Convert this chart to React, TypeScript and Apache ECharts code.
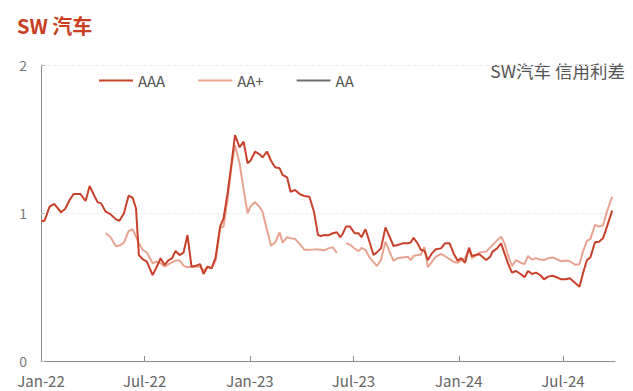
import React, { useEffect, useRef } from 'react';
import * as echarts from 'echarts';

const FONT = '"Noto Sans CJK SC", "Noto Sans", sans-serif';

const titleText = 'SW 汽车';
const noteText = 'SW汽车 信用利差';
const seriesNames = ['AAA', 'AA+', 'AA'];
const seriesColors = ['#C8412B', '#E9A491', '#6F6F6F'];

const dates = [
  '2022-01-01', '2022-01-07', '2022-01-16', '2022-01-24', '2022-02-05', '2022-02-12', '2022-02-20', '2022-02-27',
  '2022-03-11', '2022-03-20', '2022-03-27', '2022-04-05', '2022-04-10', '2022-04-16', '2022-04-24', '2022-05-02',
  '2022-05-12', '2022-05-18', '2022-05-26', '2022-06-03', '2022-06-10', '2022-06-16', '2022-06-21', '2022-06-28',
  '2022-07-05', '2022-07-15', '2022-07-21', '2022-07-29', '2022-08-05', '2022-08-12', '2022-08-18', '2022-08-24',
  '2022-08-31', '2022-09-07', '2022-09-14', '2022-09-21', '2022-09-29', '2022-10-06', '2022-10-12', '2022-10-19',
  '2022-10-26', '2022-11-02', '2022-11-10', '2022-11-16', '2022-11-23', '2022-11-30', '2022-12-06', '2022-12-14',
  '2022-12-21', '2022-12-28', '2023-01-02', '2023-01-10', '2023-01-18', '2023-01-23', '2023-01-31', '2023-02-07',
  '2023-02-14', '2023-02-22', '2023-02-27', '2023-03-07', '2023-03-13', '2023-03-21', '2023-03-29', '2023-04-06',
  '2023-04-15', '2023-04-23', '2023-04-30', '2023-05-05', '2023-05-12', '2023-05-18', '2023-05-26', '2023-06-02',
  '2023-06-08', '2023-06-12', '2023-06-18', '2023-06-25', '2023-07-03', '2023-07-10', '2023-07-15', '2023-07-22',
  '2023-07-29', '2023-08-05', '2023-08-11', '2023-08-18', '2023-08-26', '2023-09-02', '2023-09-09', '2023-09-16',
  '2023-09-25', '2023-10-04', '2023-10-09', '2023-10-14', '2023-10-21', '2023-10-27', '2023-11-02', '2023-11-08',
  '2023-11-15', '2023-11-22', '2023-12-01', '2023-12-08', '2023-12-16', '2023-12-23', '2023-12-30', '2024-01-05',
  '2024-01-12', '2024-01-19', '2024-01-24', '2024-01-30', '2024-02-06', '2024-02-18', '2024-02-25', '2024-02-29',
  '2024-03-08', '2024-03-15', '2024-03-21', '2024-03-27', '2024-04-03', '2024-04-10', '2024-04-18', '2024-04-25',
  '2024-05-01', '2024-05-08', '2024-05-15', '2024-05-22', '2024-05-29', '2024-06-05', '2024-06-13', '2024-06-20',
  '2024-06-28', '2024-07-06', '2024-07-13', '2024-07-23', '2024-07-30', '2024-08-05', '2024-08-12', '2024-08-18',
  '2024-08-26', '2024-09-02', '2024-09-09', '2024-09-16', '2024-09-25',
];

const aaaValues = [
  0.948, 0.946, 1.043, 1.061, 1.005, 1.027, 1.088, 1.128,
  1.128, 1.081, 1.182, 1.11, 1.072, 1.065, 1.009, 0.993,
  0.957, 0.948, 0.998, 1.117, 1.103, 1.032, 0.716, 0.687,
  0.671, 0.581, 0.626, 0.694, 0.649, 0.682, 0.694, 0.743,
  0.716, 0.732, 0.851, 0.637, 0.644, 0.655, 0.588, 0.637,
  0.626, 0.698, 0.908, 0.964, 1.133, 1.336, 1.527, 1.444,
  1.482, 1.336, 1.353, 1.414, 1.396, 1.376, 1.414, 1.353,
  1.309, 1.302, 1.257, 1.241, 1.144, 1.155, 1.128, 1.115,
  1.11, 1.009, 0.851, 0.845, 0.851, 0.849, 0.863, 0.87,
  0.836, 0.858, 0.908, 0.908, 0.863, 0.863, 0.836, 0.89,
  0.806, 0.716, 0.734, 0.761, 0.903, 0.84, 0.777, 0.784,
  0.795, 0.795, 0.8, 0.833, 0.795, 0.75, 0.745, 0.682,
  0.727, 0.755, 0.761, 0.795, 0.795, 0.727, 0.678, 0.694,
  0.664, 0.766, 0.709, 0.716, 0.721, 0.682, 0.705, 0.739,
  0.761, 0.795, 0.727, 0.66, 0.597, 0.608, 0.588, 0.566,
  0.608, 0.588, 0.597, 0.581, 0.552, 0.57, 0.576, 0.566,
  0.552, 0.552, 0.559, 0.525, 0.502, 0.592, 0.682, 0.7,
  0.802, 0.806, 0.829, 0.908, 1.016,
];

const aaPlusValues: (number | null)[] = [
  null, null, null, null, null, null, null, null,
  null, null, null, null, null, null, 0.863, 0.84,
  0.775, 0.78, 0.8, 0.878, 0.89, 0.84, 0.795, 0.75,
  0.733, 0.66, 0.671, 0.662, 0.637, 0.655, 0.667, 0.678,
  0.68, 0.645, 0.633, 0.637, 0.637, 0.637, 0.61, 0.637,
  0.628, 0.675, 0.898, 0.908, 1.088, 1.32, 1.459, 1.336,
  1.16, 0.998, 1.044, 1.074, 1.04, 1.009, 0.885, 0.779,
  0.8, 0.87, 0.8, 0.836, 0.83, 0.824, 0.791, 0.752,
  0.752, 0.753, 0.754, 0.752, 0.749, 0.761, 0.768, 0.73,
  null, null, 0.795, 0.786, 0.76, 0.742, 0.765, 0.75,
  0.7, 0.668, 0.642, 0.682, 0.806, 0.739, 0.676, 0.694,
  0.7, 0.705, 0.682, 0.71, 0.716, 0.72, 0.77, 0.635,
  0.67, 0.705, 0.723, 0.708, 0.688, 0.67, 0.664, 0.68,
  0.695, 0.755, 0.695, 0.71, 0.733, 0.739, 0.768, 0.784,
  0.815, 0.84, 0.795, 0.716, 0.642, 0.682, 0.664, 0.655,
  0.71, 0.685, 0.695, 0.686, 0.682, 0.694, 0.7, 0.689,
  0.674, 0.679, 0.674, 0.65, 0.653, 0.739, 0.811, 0.825,
  0.92, 0.908, 0.915, 1.01, 1.11,
];

const aaValues: (number | null)[] = [];

const tickDates = ['2022-01-01', '2022-07-01', '2023-01-01', '2023-07-01', '2024-01-01', '2024-07-01'];
const tickLabels = ['Jan-22', 'Jul-22', 'Jan-23', 'Jul-23', 'Jan-24', 'Jul-24'];
const axisStartDate = '2022-01-01';
const axisEndDate = '2024-09-30';
const yMin = 0;
const yMax = 2;
const yStep = 1;

const dayOf = (s: string) => {
  const [y, m, d] = s.split('-').map(Number);
  const [y0, m0, d0] = axisStartDate.split('-').map(Number);
  return (Date.UTC(y, m - 1, d) - Date.UTC(y0, m0 - 1, d0)) / 86400000;
};

export default function App() {
  const ref = useRef<HTMLDivElement>(null);
  useEffect(() => {
    if (!ref.current) return;
    const chart = echarts.init(ref.current, undefined, { renderer: 'svg' });
    const tickDays = tickDates.map(dayOf);
    const toPairs = (vals: (number | null)[]) =>
      vals.map((v, i) => [dayOf(dates[i]), v] as [number, number | null]);
    const valueSets = [aaaValues, aaPlusValues, aaValues];
    chart.setOption({
      animation: false,
      textStyle: { fontFamily: FONT },
      title: {
        text: titleText,
        left: 17,
        top: 15,
        padding: 0,
        textStyle: { color: '#C8401F', fontSize: 20, fontWeight: 'bold', fontFamily: FONT },
      },
      graphic: [
        {
          type: 'text',
          right: 8,
          top: 62,
          style: { text: noteText, fill: '#555555', font: `17.5px ${FONT}` },
        },
      ],
      legend: {
        data: seriesNames,
        left: 99,
        top: 73,
        padding: 0,
        icon: 'rect',
        itemWidth: 34,
        itemHeight: 2,
        itemGap: 33,
        textStyle: { color: '#555555', fontSize: 15, fontFamily: FONT },
      },
      grid: { left: 41, right: 18, top: 65, bottom: 30, containLabel: false },
      xAxis: {
        type: 'value',
        min: 0,
        max: dayOf(axisEndDate),
        axisLine: { show: true, lineStyle: { color: '#8c8c8c', width: 1 } },
        axisTick: { show: true, inside: true, length: 5, customValues: tickDays, lineStyle: { color: '#8c8c8c' } },
        axisLabel: {
          customValues: tickDays,
          color: '#666666',
          fontSize: 15,
          lineHeight: 15,
          margin: 12,
          fontFamily: FONT,
          formatter: (v: number) => {
            const idx = tickDays.findIndex((t) => Math.abs(t - v) < 0.5);
            return idx >= 0 ? tickLabels[idx] : '';
          },
        },
        splitLine: { show: false },
      },
      yAxis: {
        type: 'value',
        min: yMin,
        max: yMax,
        interval: yStep,
        axisLine: { show: true, lineStyle: { color: '#8c8c8c', width: 1 } },
        axisTick: { show: true, inside: true, length: 4, lineStyle: { color: '#bbbbbb' } },
        axisLabel: { color: '#777777', fontSize: 14, lineHeight: 13, margin: 14, fontFamily: FONT },
        splitLine: { show: true, lineStyle: { color: '#eeeeee', type: 'dashed', width: 1 } },
      },
      series: seriesNames.map((name, k) => ({
        name,
        type: 'line',
        data: toPairs(valueSets[k]),
        symbol: 'none',
        connectNulls: false,
        color: seriesColors[k],
        lineStyle: { color: seriesColors[k], width: 2 },
        z: k === 0 ? 3 : 2,
      })),
    });
    return () => chart.dispose();
  }, []);
  return (
    <div
      ref={ref}
      style={{ position: 'fixed', left: 0, top: 0, width: 633, height: 391, background: '#ffffff' }}
    />
  );
}
